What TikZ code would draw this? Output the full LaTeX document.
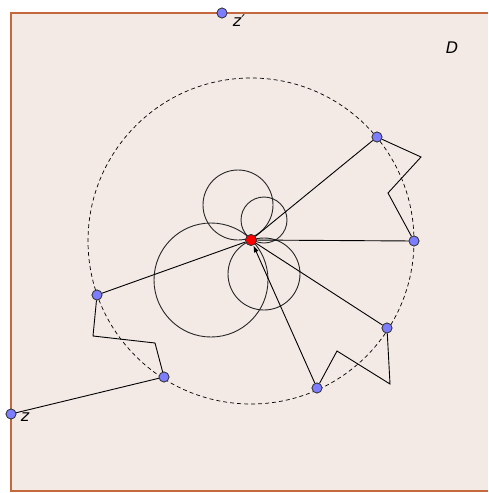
\documentclass[tikz,border=0pt]{standalone}
\usepackage{fontspec}
\setmainfont{DejaVu Sans}
\usetikzlibrary{arrows.meta}
\definecolor{dfill}{RGB}{243,234,230}
\definecolor{dborder}{RGB}{196,104,62}
\definecolor{ptblue}{RGB}{125,125,255}
\tikzset{
  pt/.style={circle,draw=black!80,fill=ptblue,line width=0.7pt,inner sep=0pt,minimum size=10pt},
  ctr/.style={circle,draw=black!80,fill=red,line width=0.7pt,inner sep=0pt,minimum size=11pt},
  lbl/.style={font=\fontsize{16}{16}\selectfont\itshape,inner sep=0pt},
  ln/.style={line width=0.9pt,black},
  cir/.style={line width=0.9pt,black!85}
}
\begin{document}
\begin{tikzpicture}[x=1pt,y=-1pt]
\useasboundingbox (0,0) rectangle (488,493);
\fill[dfill] (11,13) rectangle (488,491);
\draw[dborder,line width=1.2pt] (488,13) -- (11,13) -- (11,491) -- (488,491);
% dashed circle
\draw[dashed,line width=0.7pt,dash pattern=on 4pt off 3pt] (251,241) circle (163);
% solid circles
\draw[cir] (238,205) circle (35);
\draw[cir] (264,220) circle (23);
\draw[cir] (211,280) circle (57);
\draw[cir] (264,274) circle (36);
% points
\coordinate (A1) at (421,157);
\coordinate (A2) at (388,193);
\coordinate (B1) at (390,384);
\coordinate (B2) at (337,351);
\coordinate (C1) at (93,336);
\coordinate (C2) at (155,343);
\node[ctr] (O) at (251,240) {};
\node[pt] (P1) at (377,137) {};
\node[pt] (P2) at (414,241) {};
\node[pt] (P3) at (387,328) {};
\node[pt] (P4) at (317,388) {};
\node[pt] (P5) at (164,377) {};
\node[pt] (P6) at (97,295) {};
\node[pt] (Z) at (11,414) {};
\node[pt] (Zp) at (222,13) {};
% connectors
\draw[ln] (P1) -- (O);
\draw[ln] (P2) -- (O);
\draw[ln] (P3) -- (O);
\draw[ln] (P6) -- (O);
\draw[ln,-{Latex[length=7pt,width=5pt]}] (P4) -- (O);
\draw[ln] (P1) -- (A1) -- (A2) -- (P2);
\draw[ln] (P3) -- (B1) -- (B2) -- (P4);
\draw[ln] (P6) -- (C1) -- (C2) -- (P5);
\draw[ln] (P5) -- (Z);
% redraw points on top
\node[ctr] at (O) {};
\node[pt] at (P1) {};
\node[pt] at (P2) {};
\node[pt] at (P3) {};
\node[pt] at (P4) {};
\node[pt] at (P5) {};
\node[pt] at (P6) {};
\node[pt] at (Z) {};
\node[pt] at (Zp) {};
% labels
\node[lbl] (lz) at (25,417) {z};
\node[lbl] (lzp) at (239,21) {z′};
\node[lbl] (lD) at (452,48) {D};
\end{tikzpicture}
\end{document}
